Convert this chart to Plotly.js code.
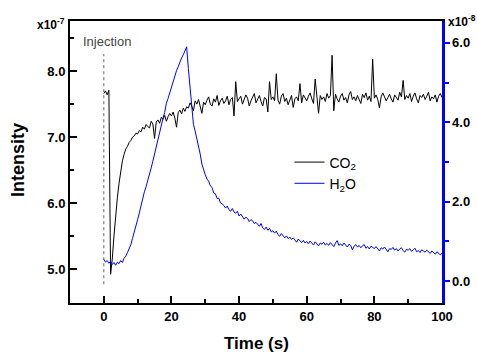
<!DOCTYPE html>
<html>
<head>
<meta charset="utf-8">
<script src="https://cdn.plot.ly/plotly-3.0.1.min.js"></script>
<style>html,body{margin:0;padding:0;background:#fff;}#chart{width:477px;height:354px;}</style>
</head>
<body>
<div id="chart"></div>
<script>
// Sampling of both signals (s)
var timeStart = 0;
var timeStep = 0.5;

// CO2 intensity (x10^-7), one value every 0.5 s from 0 to 100 s
var co2 = [
  7.66, 7.70, 7.64, 7.71, 4.92, 5.15, 5.50, 5.82, 6.08, 6.30,
  6.50, 6.64, 6.74, 6.82, 6.86, 6.92, 6.95, 7.00, 7.02, 7.06,
  7.05, 7.10, 7.08, 7.15, 7.12, 7.19, 7.16, 7.14, 7.24, 7.20,
  6.98, 7.23, 7.26, 7.21, 7.30, 7.27, 7.33, 7.24, 7.31, 7.36,
  7.32, 7.38, 7.29, 7.15, 7.37, 7.41, 7.35, 7.44, 7.39, 7.46,
  7.44, 7.52, 7.47, 7.40, 7.55, 7.50, 7.57, 7.46, 7.36, 7.53,
  7.49, 7.56, 7.61, 7.50, 7.47, 7.58, 7.53, 7.63, 7.48, 7.55,
  7.59, 7.51, 7.55, 7.62, 7.49, 7.57, 7.60, 7.32, 7.84, 7.54,
  7.58, 7.62, 7.50, 7.56, 7.64, 7.59, 7.47, 7.55, 7.61, 7.66,
  7.52, 7.57, 7.63, 7.54, 7.47, 7.60, 7.58, 7.38, 7.84, 7.57,
  7.61, 7.55, 7.96, 7.56, 7.50, 7.62, 7.66, 7.54, 7.59, 7.49,
  7.57, 7.63, 7.45, 7.58, 7.61, 7.55, 7.81, 7.52, 7.64, 7.59,
  7.55, 7.62, 7.67, 7.58, 7.51, 7.88, 7.60, 7.36, 7.63, 7.57,
  7.61, 7.54, 7.66, 7.59, 7.63, 8.24, 7.40, 7.65, 7.58, 7.53,
  7.62, 7.66, 7.56, 7.60, 7.52, 7.64, 7.69, 7.57, 7.61, 7.55,
  7.63, 7.58, 7.51, 7.65, 7.60, 7.67, 7.56, 7.62, 7.54, 8.18,
  7.59, 7.64, 7.57, 7.44, 7.61, 7.67, 7.62, 7.55, 7.60, 7.65,
  7.58, 7.53, 7.64, 7.60, 7.56, 7.68, 7.61, 7.86, 7.57, 7.63,
  7.59, 7.66, 7.54, 7.62, 7.67, 7.58, 7.52, 7.63, 7.60, 7.65,
  7.57, 7.62, 7.68, 7.55, 7.61, 7.58, 7.64, 7.53, 7.62, 7.66,
  7.60
];

// H2O intensity (x10^-8), one value every 0.5 s from 0 to 100 s
var h2o = [
  0.55, 0.48, 0.52, 0.45, 0.50, 0.42, 0.47, 0.40, 0.48, 0.44,
  0.52, 0.47, 0.58, 0.63, 0.72, 0.80, 0.92, 1.08, 1.22, 1.40,
  1.55, 1.72, 1.90, 2.12, 2.25, 2.38, 2.52, 2.70, 2.85, 3.02,
  3.20, 3.45, 3.60, 3.78, 3.92, 4.10, 4.25, 4.48, 4.60, 4.75,
  4.90, 5.02, 5.15, 5.30, 5.40, 5.52, 5.62, 5.70, 5.80, 5.90,
  5.35, 4.85, 4.25, 3.95, 3.78, 3.60, 3.38, 3.20, 2.95, 2.78,
  2.68, 2.57, 2.52, 2.40, 2.36, 2.22, 2.20, 2.08, 2.09, 1.97,
  1.95, 1.90, 1.84, 1.89, 1.80, 1.76, 1.83, 1.74, 1.71, 1.76,
  1.64, 1.69, 1.63, 1.56, 1.61, 1.58, 1.50, 1.55, 1.52, 1.45,
  1.48, 1.42, 1.38, 1.45, 1.34, 1.30, 1.36, 1.28, 1.33, 1.24,
  1.27, 1.21, 1.26, 1.17, 1.13, 1.20, 1.15, 1.09, 1.14, 1.07,
  1.11, 1.05, 1.09, 1.03, 0.98, 1.06, 1.01, 0.97, 1.03, 0.96,
  1.00, 0.94, 1.01, 0.97, 0.91, 0.99, 0.95, 0.89, 0.96, 0.93,
  0.98, 0.91, 0.95, 0.90, 0.97, 0.93, 0.87, 0.96, 1.02, 0.90,
  0.94, 0.89, 0.96, 0.91, 0.86, 0.93, 0.90, 0.79, 0.88, 0.92,
  0.86, 0.90, 0.84, 0.89, 0.92, 0.83, 0.87, 0.81, 0.88, 0.85,
  0.82, 0.87, 0.80, 0.76, 0.84, 0.81, 0.86, 0.79, 0.74, 0.82,
  0.80, 0.85, 0.78, 0.82, 0.76, 0.81, 0.84, 0.77, 0.73, 0.80,
  0.78, 0.82, 0.75, 0.79, 0.83, 0.74, 0.77, 0.72, 0.79, 0.76,
  0.73, 0.78, 0.75, 0.70, 0.76, 0.72, 0.68, 0.74, 0.70, 0.66,
  0.71
];

var xTicks = [0, 20, 40, 60, 80, 100];
var leftTicks = [5.0, 6.0, 7.0, 8.0];
var rightTicks = [0.0, 2.0, 4.0, 6.0];
var injectionTime = 0;
var injectionSpan = [4.77, 8.26];

var FONT = 'Arial, "Liberation Sans", sans-serif';

var traces = [
  {
    type: 'scatter', mode: 'lines', name: 'CO<sub>2</sub>',
    x0: timeStart, dx: timeStep, y: co2,
    line: {color: '#000000', width: 1}, yaxis: 'y'
  },
  {
    type: 'scatter', mode: 'lines', name: 'H<sub>2</sub>O',
    x0: timeStart, dx: timeStep, y: h2o,
    line: {color: '#0000ff', width: 1}, yaxis: 'y2'
  }
];

var layout = {
  width: 477, height: 354,
  margin: {l: 70, r: 35, t: 21, b: 51},
  paper_bgcolor: '#ffffff', plot_bgcolor: '#ffffff',
  font: {family: FONT, color: '#000000'},
  showlegend: true,
  legend: {
    x: 0.59, y: 0.555, xanchor: 'left', yanchor: 'top',
    bgcolor: 'rgba(0,0,0,0)', borderwidth: 0,
    font: {family: FONT, size: 14, color: '#000000'},
    tracegroupgap: 0
  },
  xaxis: {
    range: [-10, 100], tickvals: xTicks, ticktext: xTicks.map(String),
    showgrid: false, zeroline: false,
    showline: true, linecolor: '#000000', linewidth: 2, mirror: true,
    ticks: 'inside', ticklen: 7, tickwidth: 2, tickcolor: '#000000',
    minor: {dtick: 10, ticks: 'inside', ticklen: 4, tickwidth: 2, tickcolor: '#000000', showgrid: false},
    tickfont: {family: FONT, size: 13, weight: 'bold', color: '#000000'}
  },
  yaxis: {
    range: [4.485, 8.76], tickvals: leftTicks, tickformat: '.1f',
    showgrid: false, zeroline: false,
    showline: true, linecolor: '#000000', linewidth: 2, mirror: false,
    ticks: 'inside', ticklen: 7, tickwidth: 2, tickcolor: '#000000',
    minor: {dtick: 0.5, ticks: 'inside', ticklen: 4, tickwidth: 2, tickcolor: '#000000', showgrid: false},
    tickfont: {family: FONT, size: 13, weight: 'bold', color: '#000000'}
  },
  yaxis2: {
    overlaying: 'y', side: 'right',
    range: [-0.55, 6.55], tickvals: rightTicks, tickformat: '.1f',
    showgrid: false, zeroline: false,
    showline: true, linecolor: '#0000ff', linewidth: 2.5,
    ticks: 'outside', ticklen: 5, tickwidth: 2, tickcolor: '#0000ff',
    minor: {dtick: 1, ticks: 'outside', ticklen: 4, tickwidth: 2, tickcolor: '#0000ff', showgrid: false},
    tickfont: {family: FONT, size: 13, weight: 'bold', color: '#000000'}
  },
  shapes: [
    {type: 'line', xref: 'x', yref: 'y', x0: injectionTime, x1: injectionTime,
     y0: injectionSpan[0], y1: injectionSpan[1],
     line: {color: '#666666', width: 1, dash: 'dot'}}
  ],
  annotations: [
    {text: 'Intensity', textangle: -90, xref: 'paper', yref: 'paper', x: -0.14, y: 0.507,
     xanchor: 'center', yanchor: 'middle', showarrow: false,
     font: {family: FONT, size: 18, weight: 'bold', color: '#000000'}},
    {text: 'Time (s)', xref: 'paper', yref: 'paper', x: 0.5, y: -0.142,
     xanchor: 'center', yanchor: 'middle', showarrow: false,
     font: {family: FONT, size: 17, weight: 'bold', color: '#000000'}},
    {text: 'x10<sup>-7</sup>', xref: 'paper', yref: 'paper', x: -0.008, y: 0.99,
     xanchor: 'right', yanchor: 'middle', showarrow: false,
     font: {family: FONT, size: 12, weight: 'bold', color: '#000000'}},
    {text: 'x10<sup>-8</sup>', xref: 'paper', yref: 'paper', x: 1.011, y: 1.0,
     xanchor: 'left', yanchor: 'middle', showarrow: false,
     font: {family: FONT, size: 12, weight: 'bold', color: '#000000'}},
    {text: 'Injection', xref: 'paper', yref: 'paper', x: 0.10, y: 0.929,
     xanchor: 'center', yanchor: 'middle', showarrow: false,
     font: {family: FONT, size: 13, color: '#444444'}}
  ]
};

Plotly.newPlot('chart', traces, layout, {staticPlot: true, displayModeBar: false});
</script>
</body>
</html>
